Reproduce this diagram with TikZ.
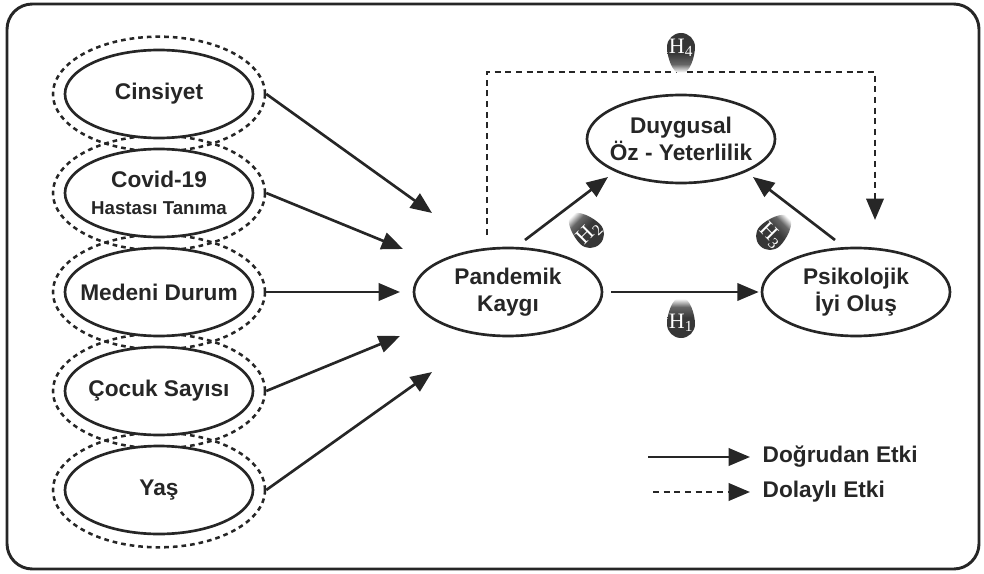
\documentclass[tikz,border=0pt]{standalone}
\usepackage{fontspec}
\setmainfont{Liberation Sans}
\newfontfamily\hfont{Liberation Serif}
\usetikzlibrary{shapes.geometric,arrows.meta}
\definecolor{ink}{HTML}{262626}
\pgfdeclareverticalshading{dropshade}{100bp}{color(0bp)=(black!80); color(50bp)=(black!78);
  color(63bp)=(black!60); color(73bp)=(white); color(100bp)=(white)}
\tikzset{>={Triangle[length=16pt,width=13pt]}}
\tikzset{
  var/.style={draw=ink,fill=white,line width=2pt,ellipse,minimum width=141pt,minimum height=66pt,
    inner xsep=-12pt,inner ysep=0pt,align=center,text=ink,font=\fontsize{17}{20}\selectfont\bfseries},
  grp/.style={draw=ink,line width=1.9pt,dash pattern=on 3.5pt off 3pt,ellipse,
    minimum width=159pt,minimum height=86pt,inner sep=0pt},
  eff/.style={->,draw=ink,line width=2pt},
  ind/.style={eff,dash pattern=on 4.5pt off 3.5pt},
  lgd/.style={anchor=west,text=ink,font=\fontsize{17}{20}\selectfont\bfseries},
}
\newcommand{\drop}{(0,27) .. controls (9,27) and (14,9) .. (14,0)
  arc[start angle=0,end angle=-180,radius=14] .. controls (-14,9) and (-9,27) .. (0,27) -- cycle}

\begin{document}
\begin{tikzpicture}[x=0.75pt,y=0.75pt]
            \useasboundingbox (0,0) rectangle (984,-574);
            \draw[ink,line width=2.2pt,rounded corners=19pt] (7,-4) rectangle (979,-569);
            % predictors
            \foreach \n/\y in {1/94,2/193,3/292,4/391,5/490}
                \node[grp] (g\n) at (159,-\y) {};
            \foreach \n/\y/\t in {1/94/Cinsiyet,2/193/{Covid-19\\{\fontsize{14}{16}\selectfont Hastası Tanıma}},
                                  3/292/Medeni Durum,4/391/Çocuk Sayısı,5/490/Yaş}
                \node[var] (v\n) at (159,-\y) {\t};
            \coordinate (t1) at (432,-213);
            \coordinate (t2) at (403,-249);
            \coordinate (t3) at (400,-292);
            \coordinate (t4) at (400,-336);
            \coordinate (t5) at (432,-372);
            \foreach \i in {1,...,5}
                \draw[eff] (g\i.east) -- (t\i);
            % model
            \node[var] (pk) at (508,-292) {Pandemik\\Kaygı};
            \node[var] (dy) at (681,-139) {Duygusal\\Öz - Yeterlilik};
            \node[var] (ps) at (856,-292) {Psikolojik\\İyi Oluş};
            \draw[eff,shorten <=6pt,shorten >=1.5pt] (pk.east) -- (ps.west);
            \coordinate (a1) at (525,-240);
            \coordinate (a2) at (608,-177);
            \draw[eff] (a1) -- (a2);
            \coordinate (b1) at (835,-240);
            \coordinate (b2) at (753,-177);
            \draw[eff] (b1) -- (b2);
            \coordinate (d1) at (487,-235);
            \coordinate (top) at (681,-72);
            \coordinate (d2) at (875,-220);
            \draw[ind] (d1) |- (top) -| (d2);
            % hypothesis badges
            \foreach \x/\y/\r/\tr/\i in {681/-324/0/0/1,590/-234/45/45/2,770/-236/-45/-45/3,681/-47/180/0/4}{
                \begin{scope}[shift={(\x,\y)},rotate=\r]
                    \shade[shading=dropshade,shading angle=\r] \drop;
                    \node[text=white,inner sep=0pt,font=\hfont\fontsize{16.5}{16.5}\selectfont,rotate=\tr] (h\i) at (0,1) {H\textsubscript{\i}};
                \end{scope}
            }
            % legend
            \coordinate (l1) at (648,-457);
            \coordinate (l2) at (750,-457);
            \draw[eff] (l1) -- (l2);
            \node[lgd] (lt1) at (758,-457) {Doğrudan Etki};
            \coordinate (l3) at (653,-492);
            \coordinate (l4) at (750,-492);
            \draw[ind] (l3) -- (l4);
            \node[lgd] (lt2) at (758,-492) {Dolaylı Etki};
        \end{tikzpicture}
\end{document}
